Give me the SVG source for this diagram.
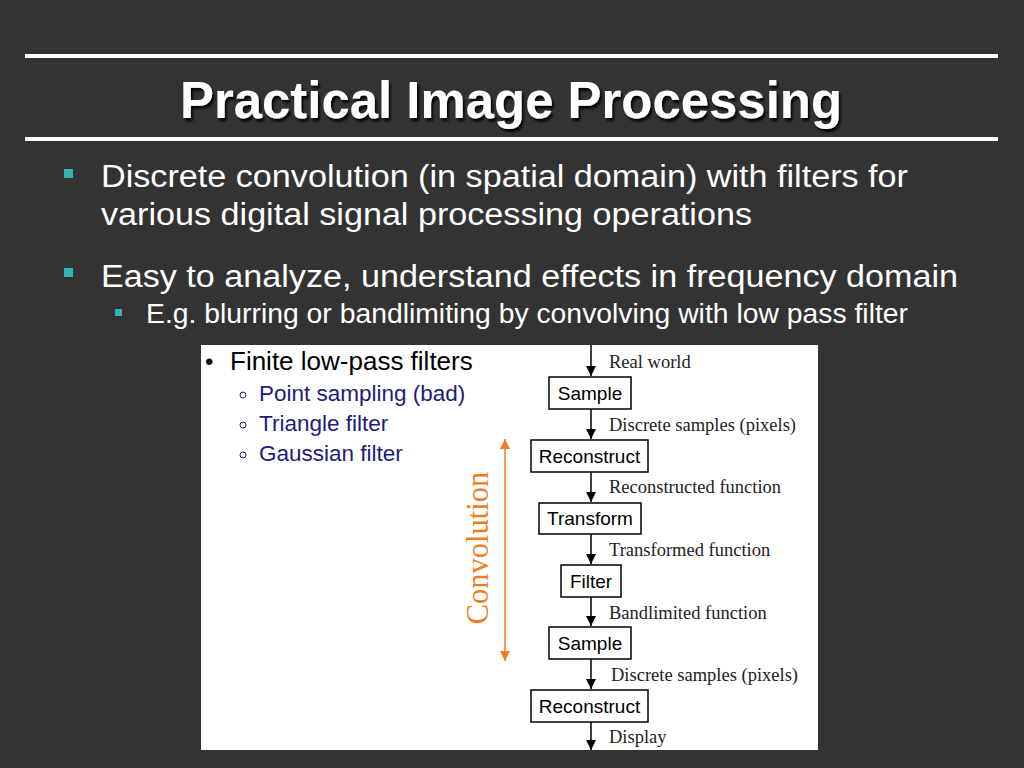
<svg xmlns="http://www.w3.org/2000/svg" width="1024" height="768" viewBox="0 0 1024 768">
<style>
.bul{fill:#ffffff;font-family:"Liberation Sans",Arial,sans-serif}
.sq{fill:#33b3b3}
.box{fill:#ffffff;stroke:#000000;stroke-width:1.5}
.bt{font-family:"Liberation Sans",Arial,sans-serif;font-size:19px;fill:#000;text-anchor:middle}
.lb{font-family:"Liberation Serif","Times New Roman",serif;font-size:18.5px;fill:#222}
.sub{font-family:"Liberation Sans",Arial,sans-serif;font-size:22.5px;fill:#1c1c7a}
.ln{stroke:#000;stroke-width:1.5}
</style>
<defs>
<marker id="ah" viewBox="0 0 10 10" refX="10" refY="5" markerWidth="10" markerHeight="10" markerUnits="userSpaceOnUse" orient="auto">
<path d="M0,0 L10,5 L0,10 z" fill="#000"/>
</marker>
<marker id="oh" viewBox="0 0 10 10" refX="10" refY="5" markerWidth="12" markerHeight="10" markerUnits="userSpaceOnUse" orient="auto-start-reverse">
<path d="M0,0 L10,5 L0,10 z" fill="#f07d1e"/>
</marker>
<filter id="sh" x="-5%" y="-20%" width="110%" height="140%">
<feDropShadow dx="2" dy="3" stdDeviation="1" flood-color="#000" flood-opacity="0.9"/>
</filter>
</defs>
<rect width="1024" height="768" fill="#333333"/>
<rect x="25" y="54" width="973" height="4" fill="#ffffff"/>
<rect x="25" y="137" width="973" height="4" fill="#ffffff"/>
<text x="511" y="118" text-anchor="middle" font-family="Liberation Sans,Arial,sans-serif" font-weight="bold" font-size="52" fill="#ffffff" filter="url(#sh)" textLength="662" lengthAdjust="spacingAndGlyphs">Practical Image Processing</text>

<rect class="sq" x="64" y="169" width="9" height="9"/>
<text class="bul" x="101" y="187" font-size="31" textLength="807" lengthAdjust="spacingAndGlyphs">Discrete convolution (in spatial domain) with filters for</text>
<text class="bul" x="101" y="225" font-size="31" textLength="651" lengthAdjust="spacingAndGlyphs">various digital signal processing operations</text>
<rect class="sq" x="64" y="268" width="9" height="9"/>
<text class="bul" x="101" y="287" font-size="31" textLength="857" lengthAdjust="spacingAndGlyphs">Easy to analyze, understand effects in frequency domain</text>
<rect class="sq" x="115" y="309" width="7" height="7"/>
<text class="bul" x="146" y="323" font-size="27" textLength="762" lengthAdjust="spacingAndGlyphs">E.g. blurring or bandlimiting by convolving with low pass filter</text>

<rect x="201" y="345" width="617" height="405" fill="#ffffff"/>
<text x="205" y="370" font-family="Liberation Sans,Arial,sans-serif" font-size="24" fill="#000">•</text>
<text x="230" y="370" font-family="Liberation Sans,Arial,sans-serif" font-size="26" fill="#000">Finite low-pass filters</text>
<circle cx="243" cy="395" r="3" fill="none" stroke="#1c1c7a" stroke-width="1"/>
<text class="sub" x="259" y="401">Point sampling (bad)</text>
<circle cx="243" cy="425" r="3" fill="none" stroke="#1c1c7a" stroke-width="1"/>
<text class="sub" x="259" y="431">Triangle filter</text>
<circle cx="243" cy="455" r="3" fill="none" stroke="#1c1c7a" stroke-width="1"/>
<text class="sub" x="259" y="461">Gaussian filter</text>

<g id="connectors">
<line class="ln" x1="591" y1="345" x2="591" y2="376" marker-end="url(#ah)"/>
<line class="ln" x1="591" y1="409" x2="591" y2="439" marker-end="url(#ah)"/>
<line class="ln" x1="591" y1="472" x2="591" y2="502" marker-end="url(#ah)"/>
<line class="ln" x1="591" y1="534" x2="591" y2="564" marker-end="url(#ah)"/>
<line class="ln" x1="591" y1="597" x2="591" y2="626" marker-end="url(#ah)"/>
<line class="ln" x1="591" y1="659" x2="591" y2="689" marker-end="url(#ah)"/>
<line class="ln" x1="591" y1="722" x2="591" y2="750" marker-end="url(#ah)"/>
<line x1="505" y1="439" x2="505" y2="661" stroke="#f07d1e" stroke-width="1.5" marker-start="url(#oh)" marker-end="url(#oh)"/>
<text class="lb" x="609" y="368">Real world</text>
<text class="lb" x="609" y="431">Discrete samples (pixels)</text>
<text class="lb" x="609" y="493">Reconstructed function</text>
<text class="lb" x="609" y="556">Transformed function</text>
<text class="lb" x="609" y="619">Bandlimited function</text>
<text class="lb" x="611" y="681">Discrete samples (pixels)</text>
<text class="lb" x="609" y="743">Display</text>
<text x="0" y="0" transform="translate(488,548) rotate(-90)" text-anchor="middle" font-family="Liberation Serif,Times New Roman,serif" font-size="30.5" fill="#f07d1e">Convolution</text>
</g>

<g id="sample1"><rect class="box" x="549" y="377" width="82" height="32"/><text class="bt" x="590" y="400">Sample</text></g>
<g id="reconstruct1"><rect class="box" x="531" y="440" width="117" height="32"/><text class="bt" x="589.5" y="463">Reconstruct</text></g>
<g id="transform"><rect class="box" x="539" y="503" width="102" height="31"/><text class="bt" x="590" y="525">Transform</text></g>
<g id="filter"><rect class="box" x="561" y="565" width="60" height="32"/><text class="bt" x="591" y="588">Filter</text></g>
<g id="sample2"><rect class="box" x="549" y="627" width="82" height="32"/><text class="bt" x="590" y="650">Sample</text></g>
<g id="reconstruct2"><rect class="box" x="531" y="690" width="117" height="32"/><text class="bt" x="589.5" y="713">Reconstruct</text></g>
</svg>
